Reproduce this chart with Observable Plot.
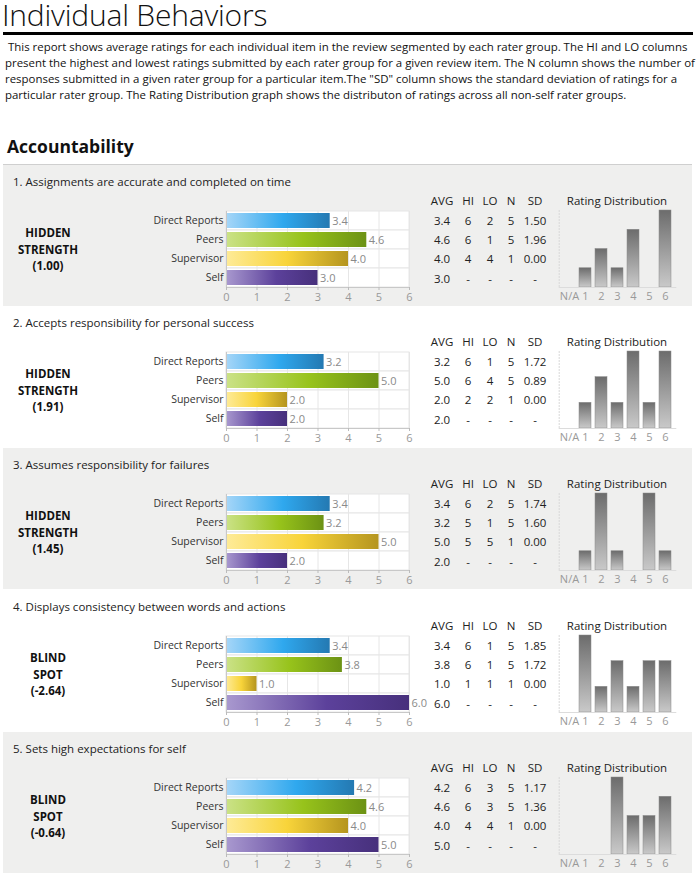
<!DOCTYPE html>
<html><head><meta charset="utf-8">
<script src="https://cdn.jsdelivr.net/npm/d3@7"></script>
<script src="https://cdn.jsdelivr.net/npm/@observablehq/plot@0.6"></script>
<style>
body{margin:0;background:#fff;font-family:"Open Sans",sans-serif;color:#222;}
#page{position:relative;width:697px;height:879px;overflow:hidden;}
.abs{position:absolute;white-space:nowrap;}
#title{left:2px;top:0px;font-size:30px;line-height:30px;font-weight:300;color:#111;letter-spacing:-0.2px;}
#rule{left:3px;top:32px;width:690px;height:3px;background:#000;}
#intro{left:5px;top:39px;font-size:11.45px;line-height:16px;color:#111;}
#section{left:7px;top:134px;font-size:17.5px;font-weight:700;color:#111;}
.panel{position:absolute;left:3px;width:689px;height:141px;}
.panel.grey{background:#efefee;}
.panel.first{border-top:1px solid #cfcfcf;}
.itemTitle{position:absolute;left:10px;top:9px;font-size:11.5px;color:#222;white-space:nowrap;}
.tag{position:absolute;left:0px;width:90px;top:60px;text-align:center;font-weight:700;font-size:11.5px;line-height:16.5px;color:#111;}
.cell{position:absolute;font-size:11.5px;color:#222;transform:translateX(-50%);white-space:nowrap;}
.distTitle{position:absolute;left:614px;top:28px;transform:translateX(-50%);font-size:11.5px;color:#222;white-space:nowrap;}
.bars{position:absolute;left:137px;top:40px;}
.dist{position:absolute;left:537px;top:40px;}
</style></head>
<body>
<svg width="0" height="0" style="position:absolute">
<defs>
<linearGradient id="gDR" x1="0" x2="1" y1="0" y2="0"><stop offset="0" stop-color="#a6d6f8"/><stop offset="0.55" stop-color="#2fa8ee"/><stop offset="1" stop-color="#2479b2"/></linearGradient>
<linearGradient id="gPeers" x1="0" x2="1" y1="0" y2="0"><stop offset="0" stop-color="#cbe287"/><stop offset="0.55" stop-color="#97c31b"/><stop offset="1" stop-color="#6c9214"/></linearGradient>
<linearGradient id="gSup" x1="0" x2="1" y1="0" y2="0"><stop offset="0" stop-color="#feeb98"/><stop offset="0.5" stop-color="#f8d43a"/><stop offset="1" stop-color="#b5951f"/></linearGradient>
<linearGradient id="gSelf" x1="0" x2="1" y1="0" y2="0"><stop offset="0" stop-color="#a999cf"/><stop offset="0.55" stop-color="#5c419b"/><stop offset="1" stop-color="#47307c"/></linearGradient>
<linearGradient id="gDist" x1="0" x2="0" y1="0" y2="1"><stop offset="0" stop-color="#6c6c6c"/><stop offset="1" stop-color="#c9c9c9"/></linearGradient>
</defs></svg>
<div id="page">
<div id="title" class="abs">Individual Behaviors</div>
<div id="rule" class="abs"></div>
<div id="intro" class="abs">&nbsp;This report shows average ratings for each individual item in the review segmented by each rater group. The HI and LO columns<br>present the highest and lowest ratings submitted by each rater group for a given review item. The N column shows the number of<br>responses submitted in a given rater group for a particular item.The "SD" column shows the standard deviation of ratings for a<br>particular rater group. The Rating Distribution graph shows the distributon of ratings across all non-self rater groups.</div>
<div id="section" class="abs">Accountability</div>
</div>
<script>
const items = [
  "1. Assignments are accurate and completed on time",
  "2. Accepts responsibility for personal success",
  "3. Assumes responsibility for failures",
  "4. Displays consistency between words and actions",
  "5. Sets high expectations for self"
];
const tagWords = [["HIDDEN","STRENGTH"],["HIDDEN","STRENGTH"],["HIDDEN","STRENGTH"],["BLIND","SPOT"],["BLIND","SPOT"]];
const tagScores = ["(1.00)","(1.91)","(1.45)","(-2.64)","(-0.64)"];
const groups = ["Direct Reports","Peers","Supervisor","Self"];
const groupFills = ["url(#gDR)","url(#gPeers)","url(#gSup)","url(#gSelf)"];
const avgValues = [
  [3.4,4.6,4.0,3.0],
  [3.2,5.0,2.0,2.0],
  [3.4,3.2,5.0,2.0],
  [3.4,3.8,1.0,6.0],
  [4.2,4.6,4.0,5.0]
];
const hiValues = [[6,6,4],[6,6,2],[6,5,5],[6,6,1],[6,6,4]];
const loValues = [[2,1,4],[1,4,2],[2,1,5],[1,1,1],[3,3,4]];
const nValues  = [[5,5,1],[5,5,1],[5,5,1],[5,5,1],[5,5,1]];
const sdValues = [[1.50,1.96,0.00],[1.72,0.89,0.00],[1.74,1.60,0.00],[1.85,1.72,0.00],[1.17,1.36,0.00]];
const ratingLabels = ["N/A","1","2","3","4","5","6"];
const distCounts = [
  [0,1,2,1,3,0,4],
  [0,1,2,1,3,1,3],
  [0,1,4,1,0,4,1],
  [0,3,1,2,1,2,2],
  [0,0,0,4,2,2,3]
];
const tableHeads = ["AVG","HI","LO","N","SD"];
const axisTicks = [0,1,2,3,4,5,6];

const page = document.getElementById("page");
const colX = [439,465,487,508,532];
const rowY = [48,67,86,106];

items.forEach((title, i) => {
  const panel = document.createElement("div");
  panel.className = "panel" + (i % 2 === 0 ? " grey" : "") + (i === 0 ? " first" : "");
  panel.style.top = (164 + i * 142) + "px";
  page.appendChild(panel);

  const t = document.createElement("div");
  t.className = "itemTitle"; t.textContent = title; panel.appendChild(t);

  const tag = document.createElement("div");
  tag.className = "tag";
  tag.innerHTML = tagWords[i].join("<br>") + "<br>" + tagScores[i];
  panel.appendChild(tag);

  tableHeads.forEach((h, c) => {
    const d = document.createElement("div");
    d.className = "cell"; d.textContent = h;
    d.style.left = colX[c] + "px"; d.style.top = "28px";
    panel.appendChild(d);
  });
  groups.forEach((g, r) => {
    const vals = r < 3
      ? [avgValues[i][r].toFixed(1), hiValues[i][r], loValues[i][r], nValues[i][r], sdValues[i][r].toFixed(2)]
      : [avgValues[i][r].toFixed(1), "-", "-", "-", "-"];
    vals.forEach((v, c) => {
      const d = document.createElement("div");
      d.className = "cell"; d.textContent = v;
      d.style.left = colX[c] + "px"; d.style.top = rowY[r] + "px";
      panel.appendChild(d);
    });
  });

  const dt = document.createElement("div");
  dt.className = "distTitle"; dt.textContent = "Rating Distribution"; panel.appendChild(dt);

  const rows = groups.map((g, r) => ({group: g, value: avgValues[i][r], fill: groupFills[r]}));
  const bars = Plot.plot({
    width: 290, height: 106,
    marginLeft: 86, marginRight: 21, marginTop: 6, marginBottom: 24,
    style: {fontFamily: "Open Sans", fontSize: "10.5px", background: "transparent", overflow: "visible"},
    x: {domain: [0, 6], label: null},
    y: {domain: groups, label: null, padding: 0},
    color: {type: "identity"},
    marks: [
      Plot.barX(groups, {y: d => d, x1: 0, x2: 6, fill: "white", stroke: "#e6e6e6", strokeWidth: 1}),
      Plot.ruleX(axisTicks.slice(1), {stroke: "#e6e6e6"}),
      Plot.barX(rows, {x: "value", y: "group", fill: "fill", insetTop: 2, insetBottom: 2}),
      Plot.text(rows, {x: "value", y: "group", text: d => d.value.toFixed(1), textAnchor: "start", dx: 2, fill: "#8a8a8a", fontSize: 11}),
      Plot.frame({anchor: "bottom", stroke: "#c8c8c8"}),
      Plot.frame({anchor: "left", stroke: "#c8c8c8"}),
      Plot.axisX({ticks: axisTicks, tickFormat: d => String(d), tickSize: 3, stroke: "#bbb", color: "#999", tickPadding: 3, fontSize: 11, label: null}),
      Plot.axisY({tickSize: 0, tickPadding: 3, color: "#333", label: null})
    ]
  });
  const bw = document.createElement("div");
  bw.className = "bars"; bw.appendChild(bars); panel.appendChild(bw);

  const dd = ratingLabels.map((r, k) => ({rating: r, count: distCounts[i][k]}));
  const dist = Plot.plot({
    width: 152, height: 106,
    marginLeft: 18.7, marginRight: 16.7, marginTop: 5, marginBottom: 24,
    style: {fontFamily: "Open Sans", fontSize: "11px", background: "transparent", overflow: "visible"},
    x: {domain: ratingLabels, padding: 0.28, label: null},
    y: {domain: [0, d3.max(distCounts[i])], label: null, axis: null},
    marks: [
      Plot.frame({anchor: "left", stroke: "#d8d8d8", strokeDasharray: "1,2"}),
      Plot.barY(dd, {x: "rating", y: "count", fill: "url(#gDist)", stroke: "#8a8a8a", strokeWidth: 0.5}),
      Plot.frame({anchor: "bottom", stroke: "#dcdcdc"}),
      Plot.axisX({tickSize: 0, tickPadding: 5, color: "#999", label: null})
    ]
  });
  const dw = document.createElement("div");
  dw.className = "dist"; dw.appendChild(dist); panel.appendChild(dw);
});
</script>
</body></html>
